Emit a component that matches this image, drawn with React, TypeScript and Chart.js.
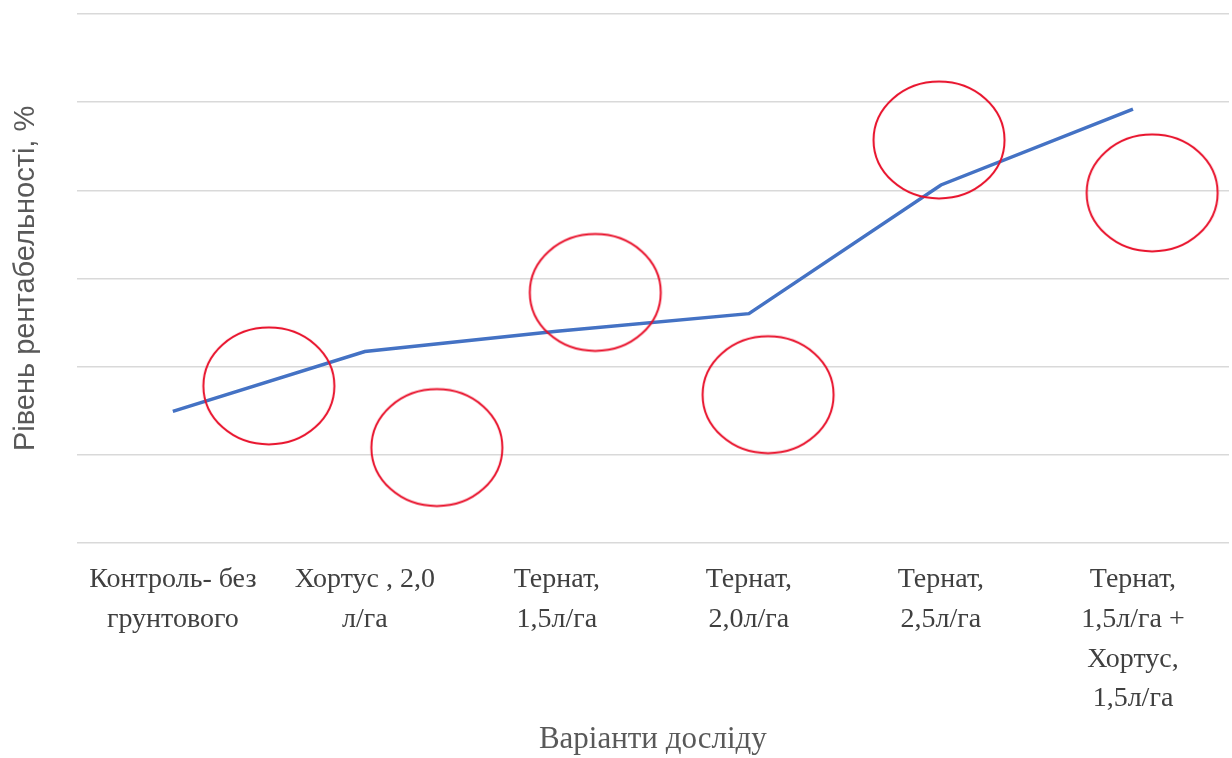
import React, { useEffect, useRef } from "react";
import { Chart, registerables } from "chart.js";

Chart.register(...registerables);

const categories: string[][] = [
  ["Контроль- без", "грунтового"],
  ["Хортус , 2,0", "л/га"],
  ["Тернат,", "1,5л/га"],
  ["Тернат,", "2,0л/га"],
  ["Тернат,", "2,5л/га"],
  ["Тернат,", "1,5л/га +", "Хортус,", "1,5л/га"],
];

const profitability: number[] = [14.9, 21.7, 24.0, 26.0, 40.6, 49.2];

// hand-drawn red ellipse annotations (category-index position, value)
const markX: number[] = [0.5, 1.375, 2.2, 3.1, 3.99, 5.1];
const markY: number[] = [17.8, 10.8, 28.4, 16.8, 45.7, 39.7];

const yTitle = "Рівень рентабельності, %";
const xTitle = "Варіанти досліду";

const SERIF = "'Liberation Serif', 'Times New Roman', serif";
const SANS = "'Liberation Sans', Arial, sans-serif";

function makeEllipse(): HTMLCanvasElement {
  const c = document.createElement("canvas");
  const w = 136;
  const h = 122;
  c.width = w;
  c.height = h;
  const ctx = c.getContext("2d")!;
  ctx.strokeStyle = "#e8102a";
  ctx.lineWidth = 2;
  ctx.beginPath();
  ctx.ellipse(w / 2, h / 2, 65.5, 58.5, 0, 0, Math.PI * 2);
  ctx.stroke();
  return c;
}

export default function App() {
  const ref = useRef<HTMLCanvasElement | null>(null);

  useEffect(() => {
    if (!ref.current) return;
    const ellipse = makeEllipse();
    const chart = new Chart(ref.current, {
      type: "line",
      data: {
        labels: categories,
        datasets: [
          {
            label: "marks",
            data: markX.map((x, i) => ({ x, y: markY[i] })),
            xAxisID: "x2",
            showLine: false,
            pointStyle: ellipse as any,
            pointRadius: 60,
            pointHoverRadius: 60,
            clip: false,
            order: 0,
          } as any,
          {
            label: "Рентабельність",
            data: profitability,
            xAxisID: "x",
            borderColor: "#4472c4",
            borderWidth: 3.5,
            pointRadius: 0,
            tension: 0,
            fill: false,
            order: 1,
          },
        ],
      },
      options: {
        animation: false,
        responsive: false,
        maintainAspectRatio: false,
        layout: { autoPadding: false, padding: { top: 14, right: 3, left: 9, bottom: 0 } },
        plugins: {
          legend: { display: false },
          tooltip: { enabled: false },
        },
        scales: {
          x: {
            type: "category",
            offset: true,
            grid: { display: false, drawTicks: false },
            border: { display: false },
            ticks: {
              color: "#404040",
              font: { family: SERIF, size: 28, lineHeight: 1.42 },
              padding: 17,
              maxRotation: 0,
              minRotation: 0,
              autoSkip: false,
            },
            title: {
              display: true,
              text: xTitle,
              color: "#595959",
              font: { family: SERIF, size: 31, lineHeight: 1.2 },
              padding: { top: -15, bottom: 0 },
            },
          },
          x2: {
            type: "linear",
            display: false,
            min: -0.5,
            max: 5.5,
          },
          y: {
            min: 0,
            max: 60,
            ticks: { display: false, stepSize: 10 },
            grid: { color: "#d9d9d9", lineWidth: 1.5, drawTicks: false },
            border: { display: false },
            title: {
              display: true,
              text: yTitle,
              color: "#595959",
              font: { family: SANS, size: 29, lineHeight: 1.2 },
              padding: { top: 0, bottom: 33 },
            },
          },
        },
      },
    });
    return () => chart.destroy();
  }, []);

  return (
    <div style={{ position: "absolute", left: 0, top: 0, width: 1232, height: 758, background: "#fff" }}>
      <canvas ref={ref} width={1232} height={758} style={{ display: "block" }} />
    </div>
  );
}
